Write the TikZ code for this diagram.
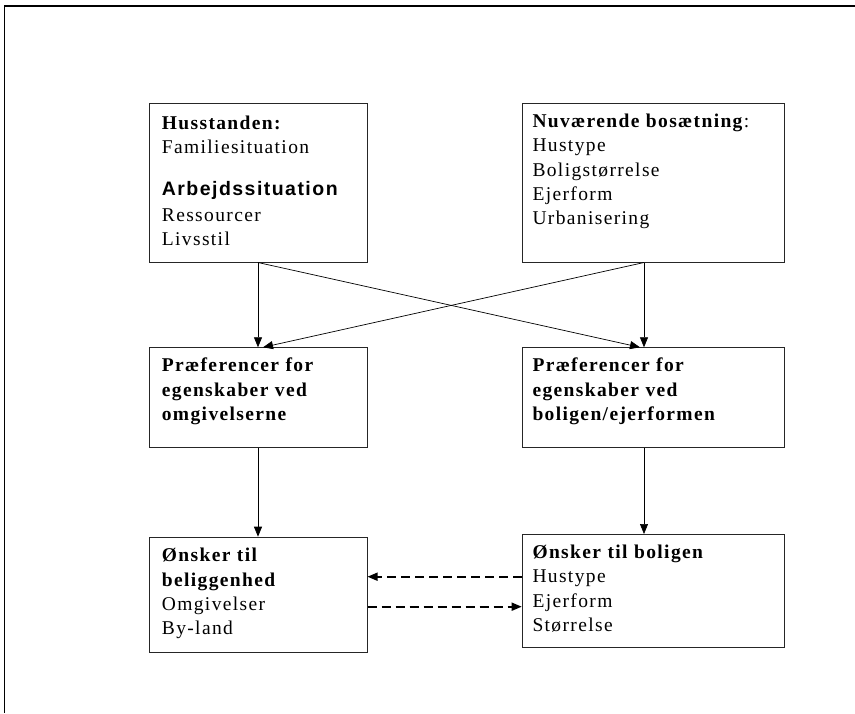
\documentclass[tikz,border=0pt]{standalone}
\usepackage{fontspec}
\setmainfont{Liberation Serif}[LetterSpace=7]
\newfontfamily\arialfont{Liberation Sans}[LetterSpace=7.5]
\usetikzlibrary{arrows.meta,calc}

\begin{document}
\begin{tikzpicture}[x=1pt,y=-1pt,
		box/.style={draw=black!85,line width=0.8pt,rectangle,inner sep=0pt,anchor=north west},
		txt/.style={anchor=base west,inner sep=0pt,align=left,text width=#1,
			font=\fontsize{19.5}{24.4}\selectfont},
		arr/.style={-{Triangle[length=10pt,width=8pt]},line width=0.7pt},
		dasharr/.style={-{Triangle[length=10pt,width=8pt]},line width=1.6pt,dash pattern=on 9pt off 5pt}]
			\useasboundingbox (0,0) rectangle (855,713);
			\draw[line width=1.4pt] (855,6) -- (4.5,6) -- (4.5,713);

			% boxes
			\node[box,minimum width=217.4pt,minimum height=158.4pt] (husst) at (149.3,103.3) {};
			\node[box,minimum width=262.6pt,minimum height=158.4pt] (bosat) at (521.7,103.3) {};
			\node[box,minimum width=217.4pt,minimum height=100pt] (praefomg) at (149.3,347.3) {};
			\node[box,minimum width=262.6pt,minimum height=100pt] (praefbol) at (521.7,347.3) {};
			\node[box,minimum width=217.4pt,minimum height=115pt] (onskbel) at (149.3,536.7) {};
			\node[box,minimum width=262.6pt,minimum height=113.3pt] (onskbol) at (521.7,534) {};

			% texts
			\node[txt=200pt] (husst-t) at ($(husst.north west)+(12.4,26)$)
				{\textbf{Husstanden:}\\ Familiesituation\\[17pt]
				{\arialfont\bfseries Arbejdssituation}\\[2pt]
				Ressourcer\\ Livsstil};
			\node[txt=245pt] (bosat-t) at ($(bosat.north west)+(10.6,24)$)
				{\textbf{Nuværende bosætning}:\\ Hustype\\ Boligstørrelse\\ Ejerform\\ Urbanisering};
			\node[txt=200pt] (praefomg-t) at ($(praefomg.north west)+(12.4,24.4)$)
				{\textbf{Præferencer for}\\ \textbf{egenskaber ved}\\ \textbf{omgivelserne}};
			\node[txt=245pt] (praefbol-t) at ($(praefbol.north west)+(10.6,24.4)$)
				{\textbf{Præferencer for}\\ \textbf{egenskaber ved}\\ \textbf{boligen/ejerformen}};
			\node[txt=200pt] (onskbel-t) at ($(onskbel.north west)+(12.4,25)$)
				{\textbf{Ønsker til}\\ \textbf{beliggenhed}\\ Omgivelser\\ By-land};
			\node[txt=245pt] (onskbol-t) at ($(onskbol.north west)+(10.6,24.3)$)
				{\textbf{Ønsker til boligen}\\ Hustype\\ Ejerform\\ Størrelse};

			% connectors
			\coordinate (colL) at (258,0);
			\coordinate (colR) at (644,0);
			\coordinate (dashtop) at (0,576.7);
			\coordinate (dashbot) at (0,606.7);
			\draw[arr] (husst.south -| colL) -- (praefomg.north -| colL);
			\draw[arr] (bosat.south -| colR) -- (praefbol.north -| colR);
			\draw[arr] (husst.south -| colL) -- ($(praefbol.north -| colR)+(-4,0)$);
			\draw[arr] (bosat.south -| colR) -- ($(praefomg.north -| colL)+(5,0)$);
			\draw[arr] (praefomg.south -| colL) -- (onskbel.north -| colL);
			\draw[arr] (praefbol.south -| colR) -- (onskbol.north -| colR);
			\draw[dasharr] (onskbol.west |- dashtop) -- (onskbel.east |- dashtop);
			\draw[dasharr] (onskbel.east |- dashbot) -- (onskbol.west |- dashbot);
		\end{tikzpicture}
\end{document}
